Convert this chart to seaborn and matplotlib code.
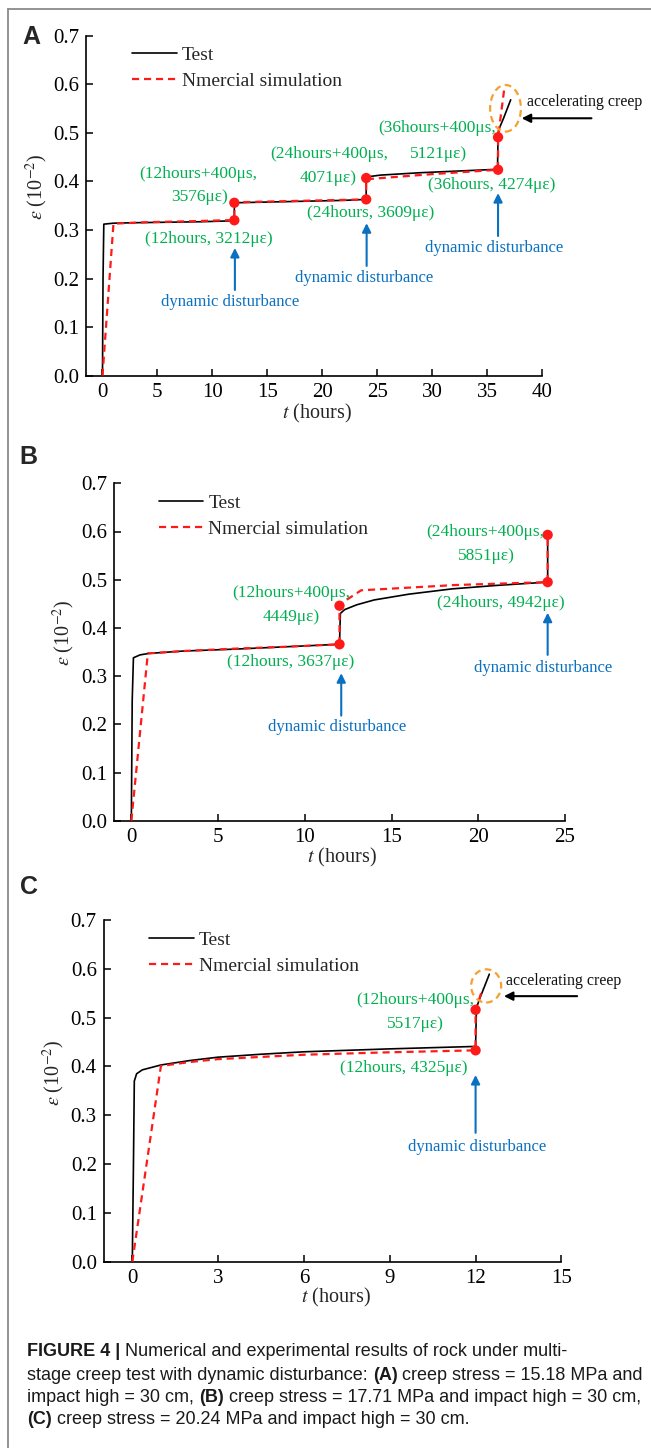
import numpy as np
import pandas as pd
import matplotlib
matplotlib.use("Agg")
import matplotlib.pyplot as plt
import seaborn as sns
from matplotlib.patches import Ellipse
from matplotlib.lines import Line2D

# ---------------- data ----------------
# Panel A
tA_test = [0, 0.05, 0.12, 1, 3, 6, 9, 12, 12, 14, 18, 22, 24, 24, 24.3, 25.3, 29, 33, 35.95, 36, 36.05, 36.5, 37.15]
eA_test = [0, 0.20, 0.312, 0.314, 0.315, 0.316, 0.317, 0.319, 0.356, 0.357, 0.359, 0.361, 0.363, 0.407, 0.410, 0.413, 0.418, 0.422, 0.425, 0.491, 0.506, 0.530, 0.568]
tA_sim = [0, 1.0, 4, 8, 12, 12, 18, 24, 24, 24.3, 30, 36, 36, 36.55]
eA_sim = [0, 0.313, 0.316, 0.318, 0.3205, 0.357, 0.360, 0.363, 0.405, 0.405, 0.415, 0.424, 0.491, 0.588]
tA_pts = [12, 12, 24, 24, 36, 36]
eA_pts = [0.320, 0.356, 0.363, 0.407, 0.424, 0.491]
A_low = ["(12hours, 3212\u03bc\u03b5)", "(24hours, 3609\u03bc\u03b5)", "(36hours, 4274\u03bc\u03b5)"]
A_high1 = ["(12hours+400\u03bcs,", "(24hours+400\u03bcs,", "(36hours+400\u03bcs,"]
A_high2 = ["3576\u03bc\u03b5)", "4071\u03bc\u03b5)", "5121\u03bc\u03b5)"]

# Panel B
tB_test = [0, 0.05, 0.12, 0.5, 1, 3, 6, 9, 12, 12.05, 12.3, 13, 14, 16, 18.5, 21, 24, 24]
eB_test = [0, 0.25, 0.338, 0.344, 0.347, 0.352, 0.356, 0.361, 0.366, 0.430, 0.438, 0.448, 0.458, 0.470, 0.481, 0.488, 0.495, 0.593]
tB_sim = [0, 0.95, 3, 6, 9, 12, 12, 12.4, 13.25, 18.7, 24, 24]
eB_sim = [0, 0.347, 0.352, 0.357, 0.361, 0.366, 0.446, 0.458, 0.478, 0.489, 0.495, 0.593]
tB_pts = [12, 12, 24, 24]
eB_pts = [0.366, 0.446, 0.495, 0.593]
B_low = ["(12hours, 3637\u03bc\u03b5)", "(24hours, 4942\u03bc\u03b5)"]
B_high1 = ["(12hours+400\u03bcs,", "(24hours+400\u03bcs,"]
B_high2 = ["4449\u03bc\u03b5)", "5851\u03bc\u03b5)"]

# Panel C
tC_test = [0, 0.04, 0.07, 0.15, 0.35, 1, 2, 3, 4.5, 6, 9, 12, 12.03, 12.15, 12.3, 12.48]
eC_test = [0, 0.20, 0.370, 0.385, 0.393, 0.403, 0.412, 0.419, 0.425, 0.430, 0.436, 0.441, 0.520, 0.540, 0.562, 0.589]
tC_sim = [0, 1.0, 2, 3, 6, 9, 12, 12, 12.25]
eC_sim = [0, 0.401, 0.409, 0.415, 0.424, 0.429, 0.433, 0.516, 0.560]
tC_pts = [12, 12]
eC_pts = [0.433, 0.516]
C_low = ["(12hours, 4325\u03bc\u03b5)"]
C_high1 = ["(12hours+400\u03bcs,"]
C_high2 = ["5517\u03bc\u03b5)"]

legend_labels = ["Test", "Nmercial simulation"]
yticks = [0.0, 0.1, 0.2, 0.3, 0.4, 0.5, 0.6, 0.7]

# ---------------- style ----------------
sns.set_style("ticks")
plt.rcParams["font.family"] = ["Liberation Serif", "DejaVu Serif"]
plt.rcParams["mathtext.fontset"] = "stix"

GREEN = "#00b050"
BLUE = "#0a70c0"
ORANGE = "#f5a030"
RED = "#ff1a1a"

W, H = 651, 1448
fig = plt.figure(figsize=(W / 100, H / 100), dpi=100)


def px_axes(left, right, top, bottom):
    return fig.add_axes([left / W, 1 - bottom / H, (right - left) / W, (bottom - top) / H])


def draw_panel(ax, tt, et, ts, es, tp, ep, xlim, xticks, ylab_xy, xlab_xy, leg_xy):
    df_t = pd.DataFrame({"t": tt, "eps": et})
    df_s = pd.DataFrame({"t": ts, "eps": es})
    sns.lineplot(data=df_t, x="t", y="eps", sort=False, estimator=None, color="black",
                 linewidth=1.2, ax=ax, label=legend_labels[0], zorder=3)
    sns.lineplot(data=df_s, x="t", y="eps", sort=False, estimator=None, color=RED,
                 linewidth=1.6, linestyle=(0, (3.2, 2.2)), ax=ax, label=legend_labels[1], zorder=4)
    sns.scatterplot(x=tp, y=ep, color=RED, s=55, edgecolor="none", ax=ax, zorder=6, legend=False)
    ax.set_xlim(*xlim)
    ax.set_ylim(0, 0.7)
    ax.set_xticks(xticks)
    ax.set_yticks(yticks)
    ax.set_yticklabels([f"{v:.1f}" for v in yticks])
    ax.set_xticklabels([str(v) for v in xticks])
    sns.despine(ax=ax)
    for s in ["left", "bottom"]:
        ax.spines[s].set_linewidth(1.2)
        ax.spines[s].set_color("black")
    ax.tick_params(direction="in", length=5, width=1.1, labelsize=15, pad=5, colors="black")
    ax.set_xlabel(r"$t$ (hours)", fontsize=14.5)
    ax.set_ylabel(r"$\varepsilon$ (10$^{-2}$)", fontsize=14.5)
    ax.xaxis.set_label_coords(*xlab_xy)
    ax.xaxis.label.set_va("center")
    ax.yaxis.set_label_coords(*ylab_xy)
    ax.yaxis.label.set_va("center")
    ax.legend(loc="upper left", bbox_to_anchor=leg_xy, frameon=False, fontsize=14,
              handlelength=2.3, handletextpad=0.25, labelspacing=0.42, borderpad=0,
              borderaxespad=0)


def label(ax, x, y, s, color=GREEN, size=12.5):
    ax.text(x, y, s, color=color, fontsize=size, ha="center", va="center", zorder=7)


def up_arrow(ax, x, y0, y1, color=BLUE):
    ax.annotate("", xy=(x, y1), xytext=(x, y0),
                arrowprops=dict(arrowstyle="-|>", color=color, lw=1.5, mutation_scale=13,
                                shrinkA=0, shrinkB=0))


def creep_arrow(ax, x_head, x_tail, y):
    ax.annotate("", xy=(x_head, y), xytext=(x_tail, y), annotation_clip=False,
                arrowprops=dict(arrowstyle="-|>", color="black", lw=1.5, mutation_scale=13,
                                shrinkA=0, shrinkB=0))


# ---------------- Panel A ----------------
axA = px_axes(86, 542, 35.7, 375.7)
draw_panel(axA, tA_test, eA_test, tA_sim, eA_sim, tA_pts, eA_pts, (-1.5, 40),
           [0, 5, 10, 15, 20, 25, 30, 35, 40], (-0.107, 0.555), (0.507, -0.11), (0.101, 0.968))
label(axA, 8.73, 0.415, A_high1[0]); label(axA, 8.82, 0.368, A_high2[0])
label(axA, 9.64, 0.2814, A_low[0])
label(axA, 20.64, 0.456, A_high1[1]); label(axA, 20.55, 0.407, A_high2[1])
label(axA, 24.36, 0.335, A_low[1])
label(axA, 30.45, 0.510, A_high1[2]); label(axA, 30.55, 0.456, A_high2[2])
label(axA, 35.45, 0.3926, A_low[2])
label(axA, 11.64, 0.1517, "dynamic disturbance", BLUE, 12)
label(axA, 23.82, 0.201, "dynamic disturbance", BLUE, 12)
label(axA, 35.64, 0.263, "dynamic disturbance", BLUE, 12)
up_arrow(axA, 12.05, 0.1765, 0.263)
up_arrow(axA, 24.04, 0.226, 0.314)
up_arrow(axA, 36.0, 0.2876, 0.376)
axA.add_patch(Ellipse((36.68, 0.5505), 2.8, 0.096, fill=False, edgecolor=ORANGE, lw=1.6,
                      linestyle=(0, (3, 2)), clip_on=False, zorder=5))
creep_arrow(axA, 38.15, 44.5, 0.530)
axA.text(38.6, 0.564, "accelerating creep", fontsize=11.5, color="#111111", ha="left",
         va="center", clip_on=False)

# ---------------- Panel B ----------------
axB = px_axes(114, 565, 483.3, 820.7)
draw_panel(axB, tB_test, eB_test, tB_sim, eB_sim, tB_pts, eB_pts, (-1, 25),
           [0, 5, 10, 15, 20, 25], (-0.111, 0.556), (0.506, -0.11), (0.099, 0.967))
label(axB, 9.22, 0.472, B_high1[0]); label(axB, 9.22, 0.423, B_high2[0])
label(axB, 9.16, 0.3286, B_low[0])
label(axB, 20.39, 0.598, B_high1[1]); label(axB, 20.45, 0.549, B_high2[1])
label(axB, 21.31, 0.452, B_low[1])
label(axB, 11.87, 0.195, "dynamic disturbance", BLUE, 12)
label(axB, 23.73, 0.316, "dynamic disturbance", BLUE, 12)
up_arrow(axB, 12.1, 0.218, 0.306)
up_arrow(axB, 24.0, 0.344, 0.4315)

# ---------------- Panel C ----------------
axC = px_axes(103.7, 561.4, 920, 1261.7)
draw_panel(axC, tC_test, eC_test, tC_sim, eC_sim, tC_pts, eC_pts, (-1, 15),
           [0, 3, 6, 9, 12, 15], (-0.109, 0.552), (0.508, -0.106), (0.099, 0.967))
label(axC, 9.88, 0.536, C_high1[0]); label(axC, 9.89, 0.487, C_high2[0])
label(axC, 9.49, 0.3975, C_low[0])
label(axC, 12.07, 0.2356, "dynamic disturbance", BLUE, 12)
up_arrow(axC, 12.0, 0.264, 0.3825)
axC.add_patch(Ellipse((12.37, 0.565), 1.05, 0.068, fill=False, edgecolor=ORANGE, lw=1.6,
                      linestyle=(0, (3, 2)), clip_on=False, zorder=5))
creep_arrow(axC, 12.99, 15.55, 0.544)
axC.text(13.06, 0.576, "accelerating creep", fontsize=11.5, color="#111111", ha="left",
         va="center", clip_on=False)

# ---------------- panel letters ----------------
for letter, (x, y) in zip(["A", "B", "C"], [(31, 37.5), (28, 457), (29, 887.5)]):
    fig.text(x / W, 1 - y / H, letter, fontfamily="Liberation Sans", fontweight="bold",
             fontsize=18, ha="center", va="center")

# ---------------- frame ----------------
fig.add_artist(Line2D([8 / W, 1], [1 - 9 / H, 1 - 9 / H], color="#8a8a8a", lw=1.3))
fig.add_artist(Line2D([8 / W, 8 / W], [0, 1 - 9 / H], color="#8a8a8a", lw=1.3))

# ---------------- caption ----------------
renderer = fig.canvas.get_renderer()
CAP_FONT = "Liberation Sans"


def measure(s, size, weight):
    t = fig.text(0, 0, s, fontfamily=CAP_FONT, fontsize=size, fontweight=weight)
    w = t.get_window_extent(renderer).width
    t.remove()
    return w


caption = [
    [("FIGURE 4 |", "bold"), (" Numerical and experimental results of rock under multi-", "normal")],
    [("stage creep test with dynamic disturbance: ", "normal"), ("(A)", "bold"),
     (" creep stress = 15.18 MPa and", "normal")],
    [("impact high = 30 cm, ", "normal"), ("(B)", "bold"),
     (" creep stress = 17.71 MPa and impact high = 30 cm,", "normal")],
    [("(C)", "bold"), (" creep stress = 20.24 MPa and impact high = 30 cm.", "normal")],
]
cap_y = [1351.7, 1375, 1397.5, 1420]


def seg_width(s, size, weight):
    sp = measure("a a", size, weight) - measure("aa", size, weight)
    core = s.strip(" ")
    lead = len(s) - len(s.lstrip(" "))
    trail = len(s) - len(s.rstrip(" "))
    return (measure(core, size, weight) if core else 0) + sp * (lead + trail), sp * lead


def line_width(line, size):
    return sum(seg_width(s, size, w)[0] for s, w in line)


base = 10
w10 = line_width(caption[1], base)
cap_size = base * 618 / w10
for line, yy in zip(caption, cap_y):
    x = 27
    for s, wgt in line:
        wtot, lead = seg_width(s, cap_size, wgt)
        fig.text((x + lead) / W, 1 - yy / H, s.strip(" "), fontfamily=CAP_FONT, fontsize=cap_size,
                 fontweight=wgt, color="#1a1a1a", ha="left", va="center")
        x += wtot

fig.savefig("out.png", dpi=100)
